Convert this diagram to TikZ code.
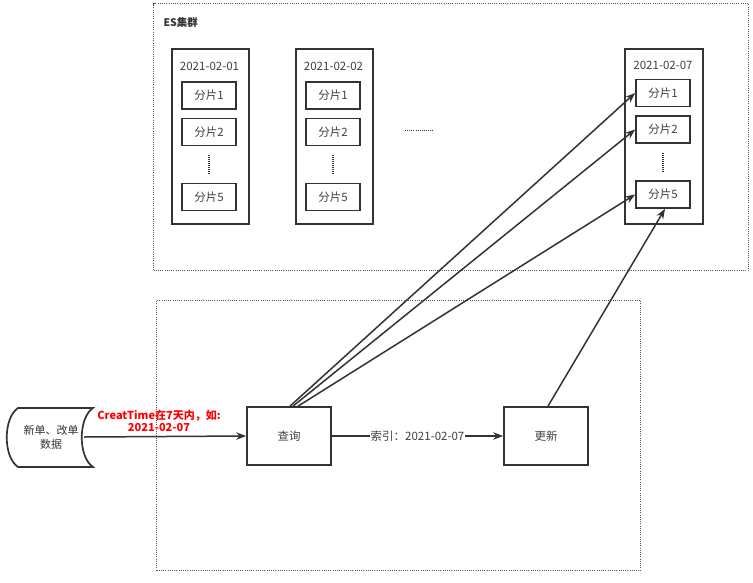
\documentclass[tikz,border=0pt]{standalone}
\usepackage{fontspec}
\setmainfont{Noto Sans CJK SC}
\usetikzlibrary{arrows.meta}
\definecolor{ln}{HTML}{333333}
\definecolor{tx}{HTML}{404040}
\definecolor{grpc}{HTML}{555555}
\definecolor{redt}{HTML}{FF0000}
\begin{document}
\begin{tikzpicture}[x=1pt,y=-1pt,
  font=\fontsize{11.5}{13}\selectfont,
  box/.style={draw=ln, line width=1.7pt, inner sep=0pt},
  shard/.style={box, minimum width=54pt, minimum height=27pt, text=tx},
  idx/.style={box, minimum width=77pt, minimum height=175pt, anchor=north west},
  proc/.style={box, minimum width=84pt, minimum height=58pt, text=tx},
  grp/.style={draw=grpc, line width=1.1pt, dash pattern=on 1pt off 1.2pt, inner sep=0pt, anchor=north west},
  vdots/.style={draw=ln, line width=1.5pt, dash pattern=on 1pt off 1pt},
  arr/.style={draw=ln, line width=1.5pt, -{Stealth[length=10pt,width=7.5pt]}}]
\useasboundingbox (0,0) rectangle (753,582);

% group frames
\node[grp, minimum width=595pt, minimum height=267pt] (es) at (153,3) {};
\node[grp, minimum width=484pt, minimum height=270pt] (low) at (156,300) {};
\node[anchor=west, font=\fontsize{10.5}{12}\selectfont\bfseries, text=ln] (eslbl) at (160,22) {ES集群};

% index 1
\node[idx] (i1) at (171,48) {};
\node[text=tx] (t1) at (209.5,66) {2021-02-01};
\node[shard] (a1) at (209,95.5) {分片1};
\node[shard] (a2) at (209,132) {分片2};
\node[shard] (a5) at (209,197) {分片5};
\coordinate (a3t) at (209,155); \coordinate (a3b) at (209,175);
\draw[vdots] (a3t) -- (a3b);

% index 2
\node[idx] (i2) at (295,48) {};
\node[text=tx] (t2) at (333.5,66) {2021-02-02};
\node[shard] (b1) at (333,95.5) {分片1};
\node[shard] (b2) at (333,132) {分片2};
\node[shard] (b5) at (333,197) {分片5};
\coordinate (b3t) at (333,155); \coordinate (b3b) at (333,175);
\draw[vdots] (b3t) -- (b3b);

% ellipsis
\coordinate (el1) at (405,130); \coordinate (el2) at (433,130);
\draw[draw=ln, line width=1pt, dash pattern=on 1pt off 1.1pt] (el1) -- (el2);

% index 7
\node[idx, minimum width=78pt] (i3) at (624,48) {};
\node[text=tx] (t3) at (663,65) {2021-02-07};
\node[shard] (c1) at (663,93) {分片1};
\node[shard] (c2) at (663,129.5) {分片2};
\node[shard] (c5) at (663,194.5) {分片5};
\coordinate (c3t) at (663,153); \coordinate (c3b) at (663,173);
\draw[vdots] (c3t) -- (c3b);

% data store
\draw[ln, line width=1.7pt] (18,408) -- (93,408) .. controls (78,418) and (78,457) .. (93,467)
  -- (18,467) .. controls (3,457) and (3,418) .. (18,408) -- cycle;
\node[minimum width=66pt, inner sep=0pt, align=center, text=ln, font=\fontsize{11}{14}\selectfont] (d) at (51,437) {新单、改单\\数据};

% processes
\node[proc] (q) at (289,436) {查询};
\node[proc] (u) at (546,436) {更新};

% arrows
\draw[arr] (d.east) -- (q.west);
\node[text=redt, font=\fontsize{11}{12}\selectfont\bfseries, align=center] (rl) at (159,421) {CreatTime在7天内，如:\\2021-02-07};
\draw[arr] (q.east) -- node[fill=white, text=tx, inner sep=1pt] (ql) {索引：2021-02-07} (u.west);
\draw[arr] ([xshift=1pt]q.north) -- (c1.west);
\draw[arr] ([xshift=4pt]q.north) -- (c2.west);
\draw[arr] ([xshift=9pt]q.north) -- (c5.west);
\draw[arr] ([xshift=2pt]u.north) -- ([xshift=2pt]c5.south);
\end{tikzpicture}
\end{document}
